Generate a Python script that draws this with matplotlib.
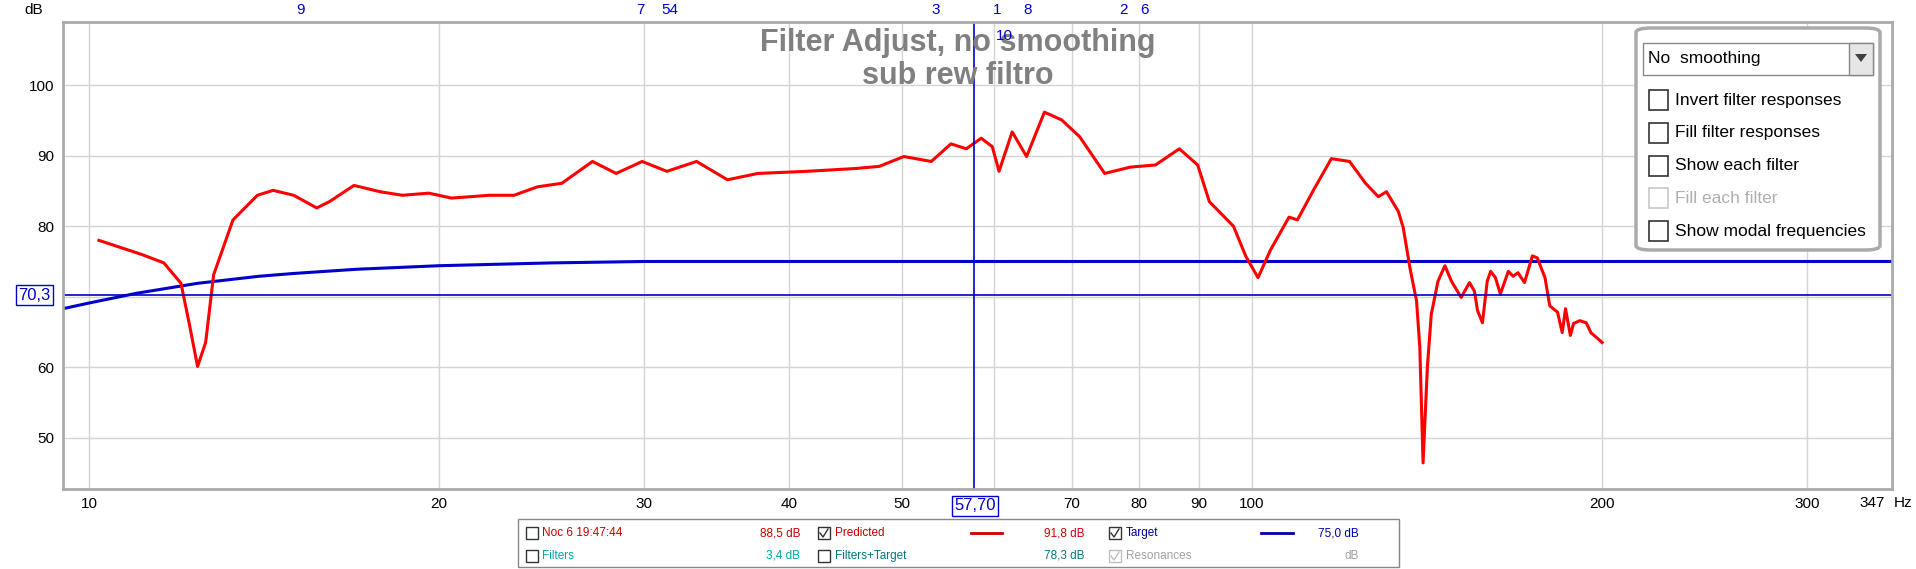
import matplotlib
matplotlib.use("Agg")
import matplotlib.pyplot as plt
from matplotlib.patches import Rectangle, FancyBboxPatch, Polygon
import numpy as np

plt.rcParams['font.family'] = ['Liberation Sans', 'DejaVu Sans']

# Predicted response (Hz, dB)
pred_f = [10.2, 11.1, 11.6, 12.0, 12.2, 12.4, 12.6, 12.8, 13.3, 13.96, 14.4, 15.0, 15.7, 16.1,
          16.9, 17.8, 18.6, 19.6, 20.5, 22.1, 23.2, 24.3, 25.5, 27.1, 28.4, 29.9, 31.4, 33.3,
          35.4, 37.6, 41.4, 45.6, 47.8, 50.2, 53.0, 55.1, 56.8, 58.5, 59.8, 60.6, 62.2, 64.0,
          66.3, 68.6, 71.1, 74.7, 78.6, 82.6, 86.6, 89.8, 91.9, 96.4, 98.8, 101.2, 103.7, 107.6,
          109.4, 113.0, 117.0, 121.3, 125.2, 128.4, 130.5, 133.6, 134.9, 136.7, 138.5, 139.4,
          140.3, 141.5, 142.6, 144.5, 146.5, 148.4, 151.3, 153.8, 155.3, 156.3, 157.8, 159.3,
          160.4, 161.9, 163.5, 166.1, 167.7, 169.3, 171.5, 174.2, 175.9, 178.6, 180.3, 183.1,
          184.8, 186.0, 187.8, 189.0, 191.4, 193.8, 195.6, 200.0]
pred_db = [78.0, 76.0, 74.8, 71.9, 66.1, 60.1, 63.5, 73.1, 80.9, 84.4, 85.1, 84.4, 82.6, 83.5,
           85.8, 84.9, 84.4, 84.7, 84.0, 84.4, 84.4, 85.6, 86.1, 89.2, 87.5, 89.2, 87.8, 89.2,
           86.6, 87.5, 87.8, 88.2, 88.5, 89.9, 89.2, 91.7, 91.0, 92.5, 91.3, 87.8, 93.4, 89.9,
           96.2, 95.1, 92.7, 87.5, 88.4, 88.7, 91.0, 88.7, 83.5, 80.0, 75.7, 72.7, 76.6, 81.3,
           80.9, 85.2, 89.6, 89.2, 86.1, 84.2, 84.9, 82.1, 79.8, 74.1, 69.4, 62.8,
           46.4, 60.0, 67.5, 72.2, 74.4, 72.2, 69.9, 72.0, 70.8, 68.0, 66.3, 72.2,
           73.6, 72.7, 70.4, 73.6, 72.9, 73.4, 72.0, 75.8, 75.5, 72.7, 68.7, 67.8,
           64.9, 68.3, 64.5, 66.2, 66.6, 66.3, 64.9, 63.5]

# Target curve
tgt_f = [9.5, 10, 11, 12.4, 14, 15, 17, 20, 25, 30, 40, 50, 100, 200, 355]
tgt_db = [68.3, 69.1, 70.5, 71.9, 72.9, 73.3, 73.9, 74.4, 74.8, 75.0, 75.0, 75.0, 75.0, 75.0, 75.0]

cursor_db = 70.3
cursor_f = 57.7
filter_labels = ['9', '7', '54', '3', '1', '10', '8', '2', '6']
filter_f = [15.2, 29.8, 31.6, 53.5, 60.4, 61.3, 64.1, 77.5, 80.8]
filter_row = [0, 0, 0, 0, 0, 1, 0, 0, 0]
xticks = [10, 20, 30, 40, 50, 60, 70, 80, 90, 100, 200, 300]
xtick_labels = ['10', '20', '30', '40', '50', '', '70', '80', '90', '100', '200', '300']
yticks = [50, 60, 70, 80, 90, 100]
ytick_labels = ['50', '60', '', '80', '90', '100']

W, H = 1916, 569
fig = plt.figure(figsize=(W/100, H/100), dpi=100)
def fx(x): return x / W
def fy(y): return 1 - y / H

ax = fig.add_axes([fx(63), fy(489), fx(1892) - fx(63), fy(22) - fy(489)])
ax.set_xscale('log')
ax.set_xlim(9.5, 355)
ax.set_ylim(42.7, 109)
ax.set_xticks(xticks)
ax.set_xticklabels(xtick_labels)
ax.xaxis.set_minor_locator(matplotlib.ticker.NullLocator())
ax.set_yticks(yticks)
ax.set_yticklabels(ytick_labels)
ax.grid(True, color='#d4d4d4', lw=1)
ax.tick_params(length=0, labelsize=11, pad=6)
for s in ax.spines.values():
    s.set_color('#aaaaaa'); s.set_linewidth(2)

ax.plot(tgt_f, tgt_db, color='#0000cc', lw=2.2)
ax.plot(pred_f, pred_db, color='#ff0000', lw=2.2, solid_joinstyle='round')
ax.axhline(cursor_db, color='#0000cc', lw=1.2)
ax.axvline(cursor_f, color='#0000cc', lw=1.2)

ax.text(0.489, 0.955, 'Filter Adjust, no smoothing', transform=ax.transAxes, ha='center', va='center',
        fontsize=22, fontweight='bold', color='#808080')
ax.text(0.489, 0.884, 'sub rew filtro', transform=ax.transAxes, ha='center', va='center',
        fontsize=22, fontweight='bold', color='#808080')

for lab, f, r in zip(filter_labels, filter_f, filter_row):
    ax.text(f, 1.0 + (0.025 if r == 0 else -0.03), lab, transform=ax.get_xaxis_transform(),
            ha='center', va='center', color='#0000cc', fontsize=11)

fig.text(fx(34), fy(10), 'dB', fontsize=11, ha='center', va='center')
fig.text(fx(1872), fy(503), '347', fontsize=11, ha='center', va='center')
fig.text(fx(1912), fy(503), 'Hz', fontsize=11, ha='right', va='center')

fig.text(fx(18), fy(295), '70,3', fontsize=12, color='#0000cc', ha='left', va='center',
         bbox=dict(boxstyle='square,pad=0.15', fc='white', ec='#0000cc', lw=1))
fig.text(fx(975), fy(506), '57,70', fontsize=12, color='#0000cc', ha='center', va='center',
         bbox=dict(boxstyle='square,pad=0.15', fc='white', ec='#0000cc', lw=1))

# control panel
fig.patches.append(FancyBboxPatch((fx(1636), fy(250)), fx(1880) - fx(1636), fy(28) - fy(250),
                                  boxstyle='round,pad=0,rounding_size=0.008', transform=fig.transFigure,
                                  fc='white', ec='#aaaaaa', lw=2.5))
fig.patches.append(Rectangle((fx(1643), fy(75)), fx(1873) - fx(1643), fy(43) - fy(75),
                             transform=fig.transFigure, fc='white', ec='#888888', lw=1))
fig.patches.append(Rectangle((fx(1849), fy(75)), fx(1873) - fx(1849), fy(43) - fy(75),
                             transform=fig.transFigure, fc='#e6e6e6', ec='#888888', lw=1))
fig.patches.append(Polygon([(fx(1855), fy(54)), (fx(1867), fy(54)), (fx(1861), fy(62))],
                           transform=fig.transFigure, fc='#404040', ec='none'))
fig.text(fx(1648), fy(59), 'No  smoothing', fontsize=12.5, va='center')
opts = ['Invert filter responses', 'Fill filter responses', 'Show each filter', 'Fill each filter',
        'Show modal frequencies']
for i, o in enumerate(opts):
    yc = 100 + i * 32.8
    col = '#b0b0b0' if i == 3 else 'black'
    ec = '#c8c8c8' if i == 3 else '#333333'
    fig.patches.append(Rectangle((fx(1649), fy(yc + 10)), fx(19), fy(0) - fy(20),
                                 transform=fig.transFigure, fc='white', ec=ec, lw=1.2))
    fig.text(fx(1675), fy(yc), o, fontsize=12.5, va='center', color=col)

# bottom legend
fig.patches.append(Rectangle((fx(518), fy(567)), fx(1399) - fx(518), fy(519) - fy(567),
                             transform=fig.transFigure, fc='white', ec='#888888', lw=1))
def cb(x, y, checked=False, col='#333333'):
    fig.patches.append(Rectangle((fx(x), fy(y + 6)), fx(12), fy(0) - fy(12),
                                 transform=fig.transFigure, fc='white', ec=col, lw=1))
    if checked:
        fig.lines.append(matplotlib.lines.Line2D([fx(x + 2), fx(x + 5), fx(x + 10)],
                                                 [fy(y), fy(y + 4), fy(y - 4)],
                                                 transform=fig.transFigure, color=col, lw=1))
r1, r2 = 533, 556
red, blue, teal, dteal, gray = '#cc0000', '#0000aa', '#00a8a8', '#007878', '#a0a0a0'
cb(526, r1); fig.text(fx(542), fy(r1), 'Noc 6 19:47:44', color=red, fontsize=8.5, va='center')
fig.text(fx(800), fy(r1), '88,5 dB', color=red, fontsize=8.5, va='center', ha='right')
cb(818, r1, True); fig.text(fx(835), fy(r1), 'Predicted', color=red, fontsize=8.5, va='center')
fig.lines.append(matplotlib.lines.Line2D([fx(971), fx(1002)], [fy(r1), fy(r1)], transform=fig.transFigure,
                                         color='#cc0000', lw=2))
fig.text(fx(1085), fy(r1), '91,8 dB', color=red, fontsize=8.5, va='center', ha='right')
cb(1109, r1, True); fig.text(fx(1126), fy(r1), 'Target', color=blue, fontsize=8.5, va='center')
fig.lines.append(matplotlib.lines.Line2D([fx(1261), fx(1293)], [fy(r1), fy(r1)], transform=fig.transFigure,
                                         color='#0000aa', lw=2))
fig.text(fx(1359), fy(r1), '75,0 dB', color=blue, fontsize=8.5, va='center', ha='right')
cb(526, r2); fig.text(fx(542), fy(r2), 'Filters', color=teal, fontsize=8.5, va='center')
fig.text(fx(800), fy(r2), '3,4 dB', color=teal, fontsize=8.5, va='center', ha='right')
cb(818, r2); fig.text(fx(835), fy(r2), 'Filters+Target', color=dteal, fontsize=8.5, va='center')
fig.text(fx(1085), fy(r2), '78,3 dB', color=dteal, fontsize=8.5, va='center', ha='right')
cb(1109, r2, True, '#c0c0c0'); fig.text(fx(1126), fy(r2), 'Resonances', color=gray, fontsize=8.5, va='center')
fig.text(fx(1359), fy(r2), 'dB', color=gray, fontsize=8.5, va='center', ha='right')

fig.savefig('out.png', dpi=100)
